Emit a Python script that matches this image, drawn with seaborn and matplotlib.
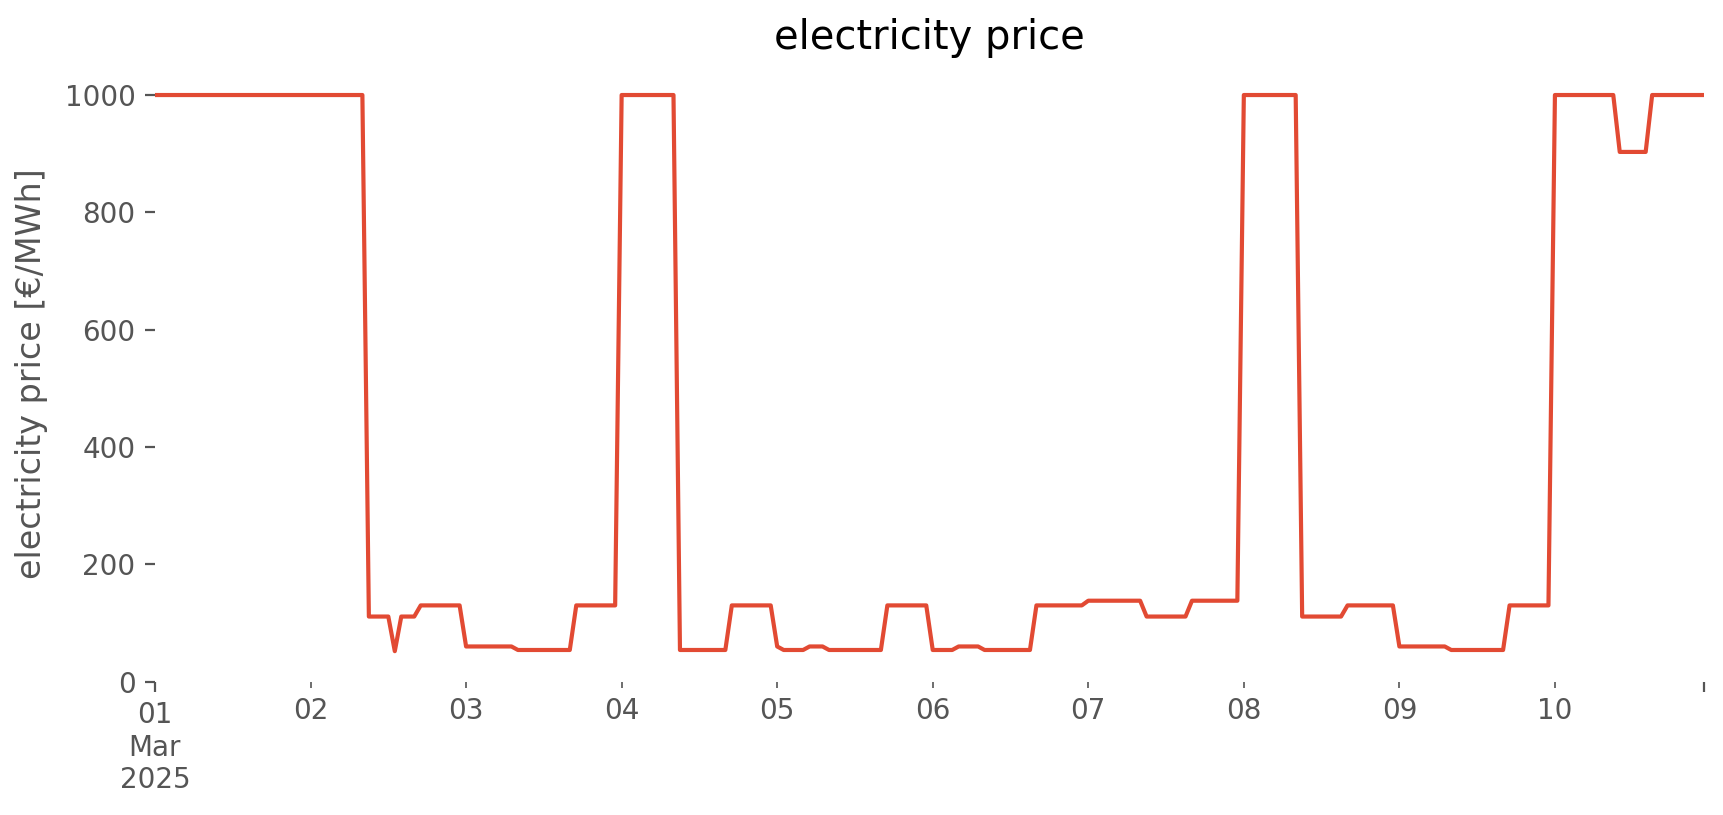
import matplotlib
matplotlib.use("Agg")
import matplotlib.pyplot as plt
import pandas as pd
import seaborn as sns

# hourly electricity price [EUR/MWh], one list per day (00:00 .. 23:00)
price_01 = [1000] * 24
price_02 = [1000] * 9 + [111] * 4 + [52] + [111] * 3 + [130] * 7
price_03 = [60] * 8 + [54] * 9 + [130] * 7
price_04 = [1000] * 9 + [54] * 8 + [130] * 7
price_05 = [60] + [54] * 4 + [60] * 3 + [54] * 9 + [130] * 7
price_06 = [54] * 4 + [60] * 4 + [54] * 8 + [130] * 8
price_07 = [138] * 9 + [111] * 7 + [138] * 8
price_08 = [1000] * 9 + [111] * 7 + [130] * 8
price_09 = [60] * 8 + [54] * 9 + [130] * 7
price_10 = [1000] * 10 + [903] * 5 + [1000] * 9

day_labels = ["01\nMar\n2025", "02", "03", "04", "05", "06", "07", "08", "09", "10"]

prices = (price_01 + price_02 + price_03 + price_04 + price_05
          + price_06 + price_07 + price_08 + price_09 + price_10)
times = pd.date_range("2025-03-01", periods=len(prices), freq="h")
days = pd.date_range("2025-03-01", periods=len(day_labels), freq="D")
df = pd.DataFrame({"time": times, "price": prices})

grey = "#555555"

fig = plt.figure(figsize=(8.62, 4.075), dpi=200)
ax = fig.add_axes([0.0899, 0.1636, 0.8985, 0.7558])
sns.lineplot(data=df, x="time", y="price", ax=ax, color="#E24A33", linewidth=1.5)

ax.set_xlim(times[0], times[-1])
ax.set_ylim(0, 1050)
for s in ax.spines.values():
    s.set_visible(False)
ax.set_facecolor("white")

# pandas style date ticks: major at the ends, minor (labelled) at each day
ax.set_xticks([times[0], times[-1]])
ax.set_xticklabels([day_labels[0], ""])
ax.set_xticks(list(days[1:]), minor=True)
ax.set_xticklabels(day_labels[1:], minor=True)
ax.tick_params(axis="both", which="both", colors=grey, labelsize=10)
ax.tick_params(axis="x", which="major", length=3.5)
ax.tick_params(axis="x", which="minor", length=2)

ax.set_xlabel("")
ax.set_ylabel("electricity price [€/MWh]", fontsize=12, color=grey, labelpad=6)
ax.set_title("electricity price", fontsize=14.4)

fig.savefig("out.png", dpi=200)
